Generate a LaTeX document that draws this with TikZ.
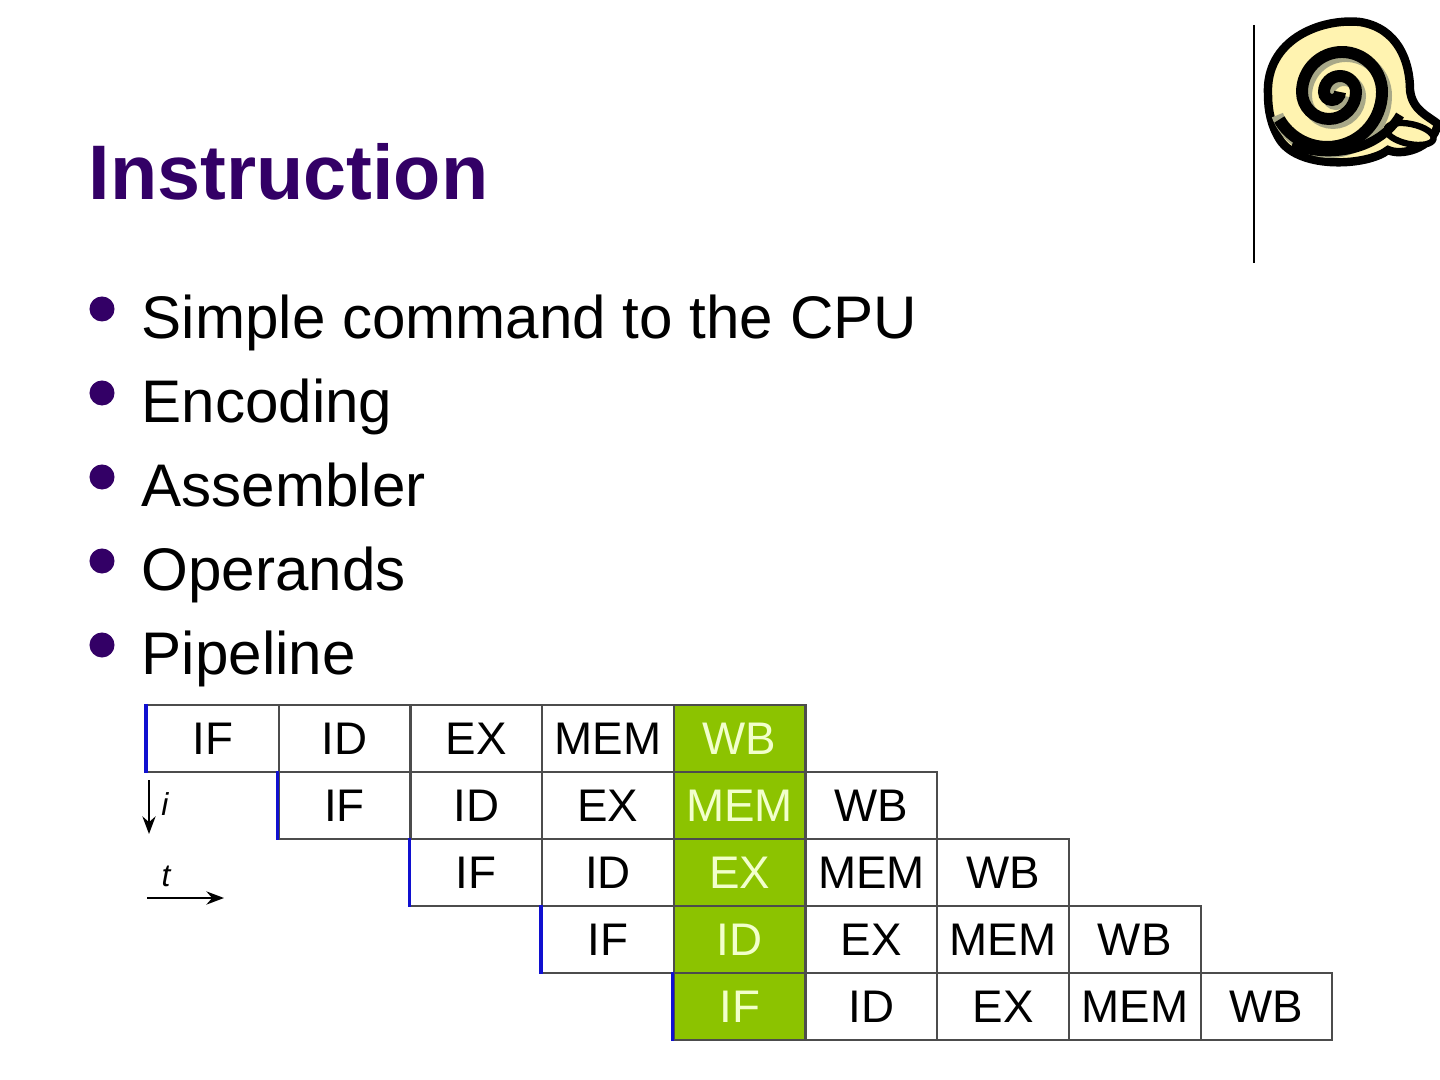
\documentclass[tikz,border=0pt]{standalone}
\usepackage{fontspec}
\setmainfont{Liberation Sans}
\usetikzlibrary{arrows.meta,positioning}
\definecolor{titlepurple}{HTML}{330066}
\definecolor{stagegreen}{HTML}{8CC300}
\definecolor{stagetext}{HTML}{F2FFCC}
\definecolor{edgeblue}{HTML}{1010D0}
\definecolor{scrollyellow}{HTML}{FFF3B0}
\definecolor{scrollgray}{HTML}{A8A888}
\newcommand{\Stagefont}{\fontsize{13pt}{15pt}\selectfont}

\begin{document}
\begin{tikzpicture}[x=0.01cm, y=-0.01cm,
    cell/.style = {draw=black!70, line width=0.6pt, minimum width=1.317cm,
                   minimum height=0.67cm, inner sep=0pt, font=\Stagefont},
    hot/.style = {cell, fill=stagegreen, text=stagetext},
    firstedge/.style = {edgeblue, line width=1pt},
    dot/.style = {circle, fill=titlepurple, minimum size=0.25cm, inner sep=0pt},
    item/.style = {anchor=base west, inner sep=0pt, font=\fontsize{17.1pt}{20pt}\selectfont}]
  \useasboundingbox (0,0) rectangle (1440,1080);

  % title and bullet list
  \node[anchor=base west, inner sep=0pt, text=titlepurple, font=\fontsize{22pt}{26pt}\bfseries] (title) at (88,200) {Instruction};
  \foreach \k/\txt in {0/Simple command to the CPU, 1/Encoding, 2/Assembler, 3/Operands, 4/Pipeline} {
    \node[dot] (b\k) at (102,{309+84*\k}) {};
    \node[item] (t\k) at (141,{339+84*\k}) {\txt};
  }

  % logo
  \draw[line width=0.6pt] (1254,25) -- (1254,263);
  \filldraw[fill=scrollyellow, line width=2.4pt]
    (1268,95) .. controls (1265,40) and (1320,18) .. (1360,22)
    .. controls (1398,28) and (1410,62) .. (1410,90)
    .. controls (1412,110) and (1428,116) .. (1438,124)
    .. controls (1432,150) and (1400,156) .. (1388,150)
    .. controls (1368,166) and (1300,170) .. (1280,140)
    .. controls (1271,126) and (1268,110) .. (1268,95) -- cycle;
  \filldraw[fill=scrollyellow, line width=1.8pt, rotate around={-12:(1410,134)}] (1410,134) ellipse [x radius=24, y radius=10];
  \draw[scrollgray, line width=3.4pt] (1344,96) arc[start angle=0, end angle=180, radius=8]
    arc[start angle=180, end angle=360, radius=16] arc[start angle=0, end angle=180, radius=27]
    arc[start angle=180, end angle=360, radius=40] arc[start angle=0, end angle=160, radius=56];
  \draw[line width=3.4pt] (1340,92) arc[start angle=0, end angle=180, radius=8]
    arc[start angle=180, end angle=360, radius=16] arc[start angle=0, end angle=180, radius=27]
    arc[start angle=180, end angle=360, radius=40] arc[start angle=0, end angle=150, radius=55];
  \draw[line width=2.6pt] (1292,145) .. controls (1330,160) and (1380,150) .. (1400,115);

  % pipeline table
  \foreach \r in {0,...,4} {
    \foreach \s/\lbl in {0/IF, 1/ID, 2/EX, 3/MEM, 4/WB} {
      \pgfmathtruncatemacro\c{\r+\s}
      \ifnum\c=4 \def\sty{hot}\else\def\sty{cell}\fi
      \node[\sty] (c\r\s) at ({147+131.7*(\c+0.5)},{705+67*(\r+0.5)}) {\lbl};
    }
    \draw[firstedge] (c\r0.north west) -- (c\r0.south west);
  }

  % axes
  \coordinate (itop) at (149,780);
  \coordinate (ibot) at (149,834);
  \draw[-{Stealth[length=5pt]}, line width=0.6pt] (itop) -- (ibot);
  \node[font=\fontsize{9pt}{10pt}\selectfont\itshape] (ilbl) at (165,804) {i};
  \coordinate (tleft) at (147,898);
  \coordinate (tright) at (224,898);
  \draw[-{Stealth[length=5pt]}, line width=0.6pt] (tleft) -- (tright);
  \node[font=\fontsize{9pt}{10pt}\selectfont\itshape] (tlbl) at (166,876) {t};
\end{tikzpicture}
\end{document}
